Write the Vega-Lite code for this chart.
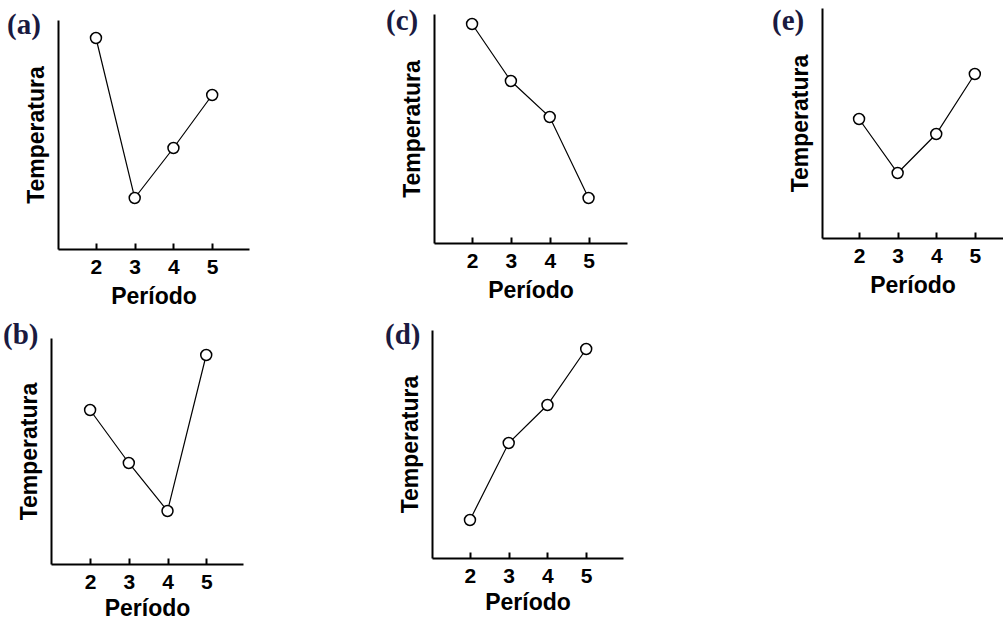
{
  "$schema": "https://vega.github.io/schema/vega-lite/v6.json",
  "background": "white",
  "padding": 0,
  "datasets": {
    "temps": [
      {"painel": "a", "periodo": 2, "temp": 211},
      {"painel": "a", "periodo": 3, "temp": 51},
      {"painel": "a", "periodo": 4, "temp": 101},
      {"painel": "a", "periodo": 5, "temp": 154},
      {"painel": "b", "periodo": 2, "temp": 154},
      {"painel": "b", "periodo": 3, "temp": 101},
      {"painel": "b", "periodo": 4, "temp": 53},
      {"painel": "b", "periodo": 5, "temp": 209},
      {"painel": "c", "periodo": 2, "temp": 219},
      {"painel": "c", "periodo": 3, "temp": 162},
      {"painel": "c", "periodo": 4, "temp": 126},
      {"painel": "c", "periodo": 5, "temp": 45},
      {"painel": "d", "periodo": 2, "temp": 38},
      {"painel": "d", "periodo": 3, "temp": 115},
      {"painel": "d", "periodo": 4, "temp": 153},
      {"painel": "d", "periodo": 5, "temp": 209},
      {"painel": "e", "periodo": 2, "temp": 119},
      {"painel": "e", "periodo": 3, "temp": 65},
      {"painel": "e", "periodo": 4, "temp": 104},
      {"painel": "e", "periodo": 5, "temp": 164}
    ],
    "vazio": []
  },
  "columns": 6,
  "align": "none",
  "bounds": "flush",
  "spacing": 0,
  "concat": [
    {"width": 51, "height": 8, "data": {"name": "vazio"}, "mark": "point"},
    {"width": 1, "height": 8, "data": {"name": "vazio"}, "mark": "point"},
    {"width": 183, "height": 8, "data": {"name": "vazio"}, "mark": "point"},
    {"width": 1, "height": 8, "data": {"name": "vazio"}, "mark": "point"},
    {"width": 195, "height": 8, "data": {"name": "vazio"}, "mark": "point"},
    {"width": 1, "height": 8, "data": {"name": "vazio"}, "mark": "point"},

    {"width": 1, "height": 1, "data": {"name": "vazio"}, "mark": "point"},
    {
      "title": {"text": "(a)", "dx": -44, "offset": -32},
      "width": 198, "height": 241,
      "data": {"name": "temps"},
      "transform": [{"filter": "datum.painel === 'a'"}],
      "encoding": {
        "x": {"field": "periodo", "type": "quantitative", "scale": {"domain": [1.02, 5.95], "range": [7, 198], "nice": false, "zero": false}, "axis": {"values": [2, 3, 4, 5], "title": "Período"}},
        "y": {"field": "temp", "type": "quantitative", "scale": {"domain": [0, 229], "range": [241, 12], "nice": false, "zero": false}, "axis": {"title": "Temperatura", "offset": -7}}
      },
      "layer": [
        {"mark": {"type": "line", "color": "black", "strokeWidth": 1.2}},
        {"mark": {"type": "circle", "fill": "white", "stroke": "black", "strokeWidth": 1.5, "size": 120, "opacity": 1}}
      ]
    },
    {"width": 1, "height": 1, "data": {"name": "vazio"}, "mark": "point"},
    {
      "title": {"text": "(c)", "dx": -46, "offset": -28},
      "width": 195, "height": 235,
      "data": {"name": "temps"},
      "transform": [{"filter": "datum.painel === 'c'"}],
      "encoding": {
        "x": {"field": "periodo", "type": "quantitative", "scale": {"domain": [1.02, 5.99], "range": [2, 195], "nice": false, "zero": false}, "axis": {"values": [2, 3, 4, 5], "title": "Período"}},
        "y": {"field": "temp", "type": "quantitative", "scale": {"domain": [0, 229], "range": [235, 6], "nice": false, "zero": false}, "axis": {"title": "Temperatura", "offset": -2}}
      },
      "layer": [
        {"mark": {"type": "line", "color": "black", "strokeWidth": 1.2}},
        {"mark": {"type": "circle", "fill": "white", "stroke": "black", "strokeWidth": 1.5, "size": 120, "opacity": 1}}
      ]
    },
    {"width": 1, "height": 1, "data": {"name": "vazio"}, "mark": "point"},
    {
      "title": {"text": "(e)", "dx": -50, "offset": -28},
      "width": 181, "height": 230,
      "data": {"name": "temps"},
      "transform": [{"filter": "datum.painel === 'e'"}],
      "encoding": {
        "x": {"field": "periodo", "type": "quantitative", "scale": {"domain": [1.04, 5.73], "nice": false, "zero": false}, "axis": {"values": [2, 3, 4, 5], "title": "Período"}},
        "y": {"field": "temp", "type": "quantitative", "scale": {"domain": [0, 230], "nice": false, "zero": false}, "axis": {"title": "Temperatura"}}
      },
      "layer": [
        {"mark": {"type": "line", "color": "black", "strokeWidth": 1.2}},
        {"mark": {"type": "circle", "fill": "white", "stroke": "black", "strokeWidth": 1.5, "size": 120, "opacity": 1}}
      ]
    },

    {"width": 1, "height": 81, "data": {"name": "vazio"}, "mark": "point"},
    {"width": 1, "height": 1, "data": {"name": "vazio"}, "mark": "point"},
    {"width": 1, "height": 1, "data": {"name": "vazio"}, "mark": "point"},
    {"width": 1, "height": 1, "data": {"name": "vazio"}, "mark": "point"},
    {"width": 1, "height": 1, "data": {"name": "vazio"}, "mark": "point"},
    {"width": 1, "height": 1, "data": {"name": "vazio"}, "mark": "point"},

    {"width": 1, "height": 1, "data": {"name": "vazio"}, "mark": "point"},
    {
      "title": {"text": "(b)", "dx": -48, "offset": -20},
      "width": 192, "height": 234,
      "data": {"name": "temps"},
      "transform": [{"filter": "datum.painel === 'b'"}],
      "encoding": {
        "x": {"field": "periodo", "type": "quantitative", "scale": {"domain": [0.99, 5.95], "nice": false, "zero": false}, "axis": {"values": [2, 3, 4, 5], "title": "Período", "titlePadding": 5}},
        "y": {"field": "temp", "type": "quantitative", "scale": {"domain": [0, 226], "range": [234, 8], "nice": false, "zero": false}, "axis": {"title": "Temperatura"}}
      },
      "layer": [
        {"mark": {"type": "line", "color": "black", "strokeWidth": 1.2}},
        {"mark": {"type": "circle", "fill": "white", "stroke": "black", "strokeWidth": 1.5, "size": 120, "opacity": 1}}
      ]
    },
    {"width": 1, "height": 1, "data": {"name": "vazio"}, "mark": "point"},
    {
      "title": {"text": "(d)", "dx": -47, "offset": -20},
      "width": 191, "height": 228,
      "data": {"name": "temps"},
      "transform": [{"filter": "datum.painel === 'd'"}],
      "encoding": {
        "x": {"field": "periodo", "type": "quantitative", "scale": {"domain": [1.02, 5.95], "nice": false, "zero": false}, "axis": {"values": [2, 3, 4, 5], "title": "Período", "titlePadding": 5}},
        "y": {"field": "temp", "type": "quantitative", "scale": {"domain": [0, 228], "nice": false, "zero": false}, "axis": {"title": "Temperatura"}}
      },
      "layer": [
        {"mark": {"type": "line", "color": "black", "strokeWidth": 1.2}},
        {"mark": {"type": "circle", "fill": "white", "stroke": "black", "strokeWidth": 1.5, "size": 120, "opacity": 1}}
      ]
    }
  ],
  "config": {
    "view": {"stroke": null},
    "title": {"anchor": "start", "frame": "group", "orient": "top", "baseline": "middle", "font": "Liberation Serif", "fontSize": 29, "fontWeight": "bold", "color": "#1a1a40"},
    "axis": {
      "grid": false,
      "domainColor": "black", "domainWidth": 2,
      "tickColor": "black", "tickWidth": 2,
      "labelFont": "Liberation Sans", "labelFontSize": 21, "labelFontWeight": "bold", "labelColor": "black",
      "titleFont": "Liberation Sans", "titleFontSize": 23, "titleFontWeight": "bold", "titleColor": "black"
    },
    "axisX": {"tickSize": -6, "labelPadding": 13, "titlePadding": 8},
    "axisY": {"ticks": false, "labels": false, "titlePadding": 10}
  }
}
